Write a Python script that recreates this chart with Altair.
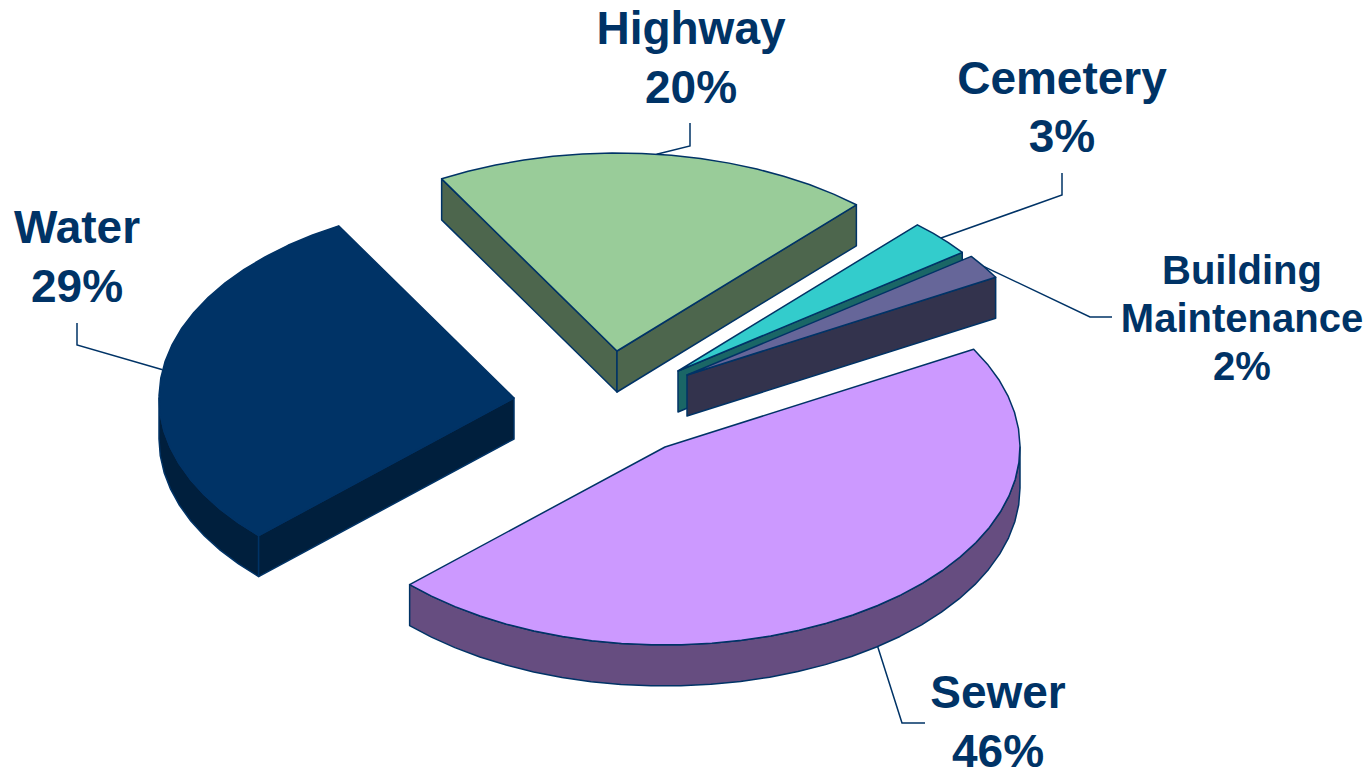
import math
import altair as alt
import pandas as pd

# Budget shares by department
categories = ["Highway", "Cemetery", "Building Maintenance", "Sewer", "Water"]
shares = [20, 3, 2, 46, 29]

# Palette: top face and shaded side for each slice
top_colors = ["#99CC99", "#33CCCC", "#666699", "#CC99FF", "#003366"]
side_colors = ["#4D664D", "#1A6666", "#33334D", "#664D80", "#001F3D"]
INK = "#003366"

# Pie geometry on the page
W, H = 1372, 772
RX, RY = 355, 198
DEPTH = 41
START_ANGLE = -29.6
ARC_STEP = 5
apexes = {
    "Highway": (617, 351),
    "Cemetery": (678, 371),
    "Building Maintenance": (687, 375),
    "Sewer": (665, 447),
    "Water": (514, 398),
}
paint_order = ["Water", "Highway", "Sewer", "Cemetery", "Building Maintenance"]

# Elbow and end of each leader line
leader_bends = {
    "Highway": [(690, 146), (690, 123)],
    "Cemetery": [(1062, 195), (1062, 173)],
    "Building Maintenance": [(1090, 317), (1112, 317)],
    "Sewer": [(902, 723), (925, 723)],
    "Water": [(77, 345), (77, 323)],
}
# Label blocks: centre x, first baseline, line spacing, font size
label_blocks = {
    "Highway": (691, 44, 59, 46),
    "Cemetery": (1062, 94, 58, 46),
    "Building Maintenance": (1242, 284, 48, 40),
    "Sewer": (998, 708, 59, 46),
    "Water": (77, 243, 59, 46),
}


def rim(apex, angle):
    t = math.radians(angle)
    return apex[0] + RX * math.sin(t), apex[1] - RY * math.cos(t)


def arc_angles(a0, a1):
    n = max(2, int(math.ceil((a1 - a0) / ARC_STEP)))
    return [a0 + (a1 - a0) * i / n for i in range(n + 1)]


# Angular span of every slice, clockwise from the top of the ellipse
spans = {}
cursor = START_ANGLE
for name, share in zip(categories, shares):
    spans[name] = (cursor, cursor + share * 3.6)
    cursor += share * 3.6

faces = []
leaders = []


def add_face(points, fill):
    fid = len(faces)
    faces.extend(
        {"face": f"{fid:03d}", "i": i, "x": x, "y": y, "fill": fill}
        for i, (x, y) in enumerate(points)
    )


for name in paint_order:
    k = categories.index(name)
    apex = apexes[name]
    a0, a1 = spans[name]
    p0, p1 = rim(apex, a0), rim(apex, a1)
    side = side_colors[k]
    down = lambda p: (p[0], p[1] + DEPTH)

    # Outer wall: only the part of the rim on the near half shows
    lo, hi = max(a0, 90), min(a1, 270)
    if lo < hi:
        arc = [rim(apex, a) for a in arc_angles(lo, hi)]
        add_face(arc + [down(p) for p in reversed(arc)], side)
    # Cut faces that turn toward the viewer
    if p0[0] < apex[0]:
        add_face([apex, p0, down(p0), down(apex)], side)
    if p1[0] > apex[0]:
        add_face([apex, p1, down(p1), down(apex)], side)
    # Top face
    add_face([apex] + [rim(apex, a) for a in arc_angles(a0, a1)], top_colors[k])

    # Leader starts on the rim at the slice's middle angle
    mid = (a0 + a1) / 2
    sx, sy = rim(apex, mid)
    if 90 < mid < 270:
        sy += DEPTH
    for i, (x, y) in enumerate([(sx, sy)] + leader_bends[name]):
        leaders.append({"name": name, "i": i, "x": x, "y": y})

labels = []
for name, share in zip(categories, shares):
    cx, base, step, size = label_blocks[name]
    lines = name.split(" ") + [f"{share}%"]
    for j, line in enumerate(lines):
        labels.append({"text": line, "x": cx, "y": base + j * step, "size": size})

x_scale = alt.Scale(domain=[0, W], range=[0, W])
y_scale = alt.Scale(domain=[0, H], range=[0, H])
x_enc = alt.X("x:Q", scale=x_scale, axis=None)
y_enc = alt.Y("y:Q", scale=y_scale, axis=None)

leader_layer = (
    alt.Chart(pd.DataFrame(leaders))
    .mark_line(color=INK, strokeWidth=1.5)
    .encode(x=x_enc, y=y_enc, order="i:O", detail="name:N")
)

face_layer = (
    alt.Chart(pd.DataFrame(faces))
    .mark_line(interpolate="linear-closed", strokeWidth=1.5, strokeJoin="round", color=INK)
    .encode(
        x=x_enc,
        y=y_enc,
        order="i:Q",
        detail="face:N",
        fill=alt.Fill("fill:N", scale=None),
    )
)

label_layer = (
    alt.Chart(pd.DataFrame(labels))
    .mark_text(font="Liberation Sans", fontWeight="bold", color=INK, align="center", baseline="alphabetic")
    .encode(
        x=x_enc,
        y=y_enc,
        text="text:N",
        size=alt.Size("size:Q", scale=None, legend=None),
    )
)

chart = (
    alt.layer(leader_layer, face_layer, label_layer)
    .properties(width=W, height=H, padding=0, autosize=alt.AutoSizeParams(type="none"), background="white")
    .configure_view(stroke=None)
)

chart.save("out.html", embed_options={"renderer": "svg", "actions": False})
